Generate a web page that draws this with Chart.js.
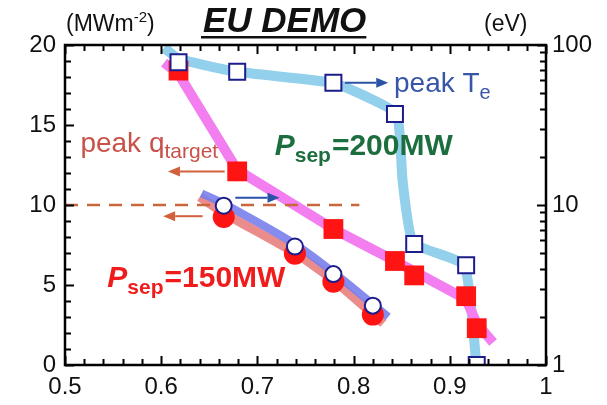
<!DOCTYPE html>
<html><head><meta charset="utf-8">
<script src="https://cdn.jsdelivr.net/npm/chart.js@4/dist/chart.umd.min.js"></script>
<style>html,body{margin:0;padding:0;background:#fff}#wrap{width:607px;height:405px}</style>
</head><body><div id="wrap"><canvas id="c" width="607" height="405"></canvas></div>
<script>
// ---- data ----
const xTicks = [0.5, 0.6, 0.7, 0.8, 0.9, 1.0];
const qTicks = [0, 5, 10, 15, 20];
const teTicks = [1, 10, 100];

// P_sep = 200 MW
const x200 = [0.618, 0.679, 0.779, 0.843, 0.863, 0.917, 0.928];
const q200 = [18.4, 12.1, 8.5, 6.5, 5.6, 4.3, 2.3];
const te200 = [78, 68, 58, 37, 5.7, 4.2, 1.0];
const q200FitX = [0.603, 0.618, 0.679, 0.779, 0.843, 0.917, 0.928, 0.945];
const q200FitY = [18.9, 18.2, 12.2, 8.5, 6.5, 4.1, 2.6, 1.4];
const te200FitX = [0.603, 0.618, 0.679, 0.779, 0.815, 0.845, 0.851, 0.862, 0.915, 0.928];
const te200FitY = [96, 82, 68, 58, 47, 37, 14, 5.8, 4.2, 0.95];

// P_sep = 150 MW
const x150 = [0.665, 0.739, 0.779, 0.820];
const q150 = [9.25, 6.95, 5.2, 3.15];
const te150 = [9.9, 5.5, 3.7, 2.35];
const q150FitX = [0.640, 0.665, 0.739, 0.779, 0.831];
const q150FitY = [10.5, 9.5, 7.0, 5.3, 2.6];
const te150FitX = [0.642, 0.665, 0.739, 0.779, 0.836];
const te150FitY = [11.8, 10.2, 5.7, 3.8, 2.0];

// reference level
const refX = [0.5, 0.806];
const refQ = [10, 10];

const pts = (xs, ys) => xs.map((x, i) => ({x: x, y: ys[i]}));

const RED = '#ff1414', NAVY = '#1c1c8a';

const datasets = [
  {data: pts(te200FitX, te200FitY), yAxisID: 'y2', showLine: true, borderColor: '#92d0ec', borderWidth: 10, pointRadius: 0, order: 20, tension: 0.15, borderJoinStyle: 'round'},
  {data: pts(q200FitX, q200FitY), yAxisID: 'y', showLine: true, borderColor: '#f27ef0', borderWidth: 10, pointRadius: 0, order: 19, tension: 0, borderJoinStyle: 'round'},
  {data: pts(q150FitX, q150FitY), yAxisID: 'y', showLine: true, borderColor: 'rgba(232,120,120,0.85)', borderWidth: 9, pointRadius: 0, order: 18, tension: 0.2},
  {data: pts(te150FitX, te150FitY), yAxisID: 'y2', showLine: true, borderColor: 'rgba(120,128,236,0.9)', borderWidth: 8, pointRadius: 0, order: 17, tension: 0.2},
  {data: pts(refX, refQ), yAxisID: 'y', showLine: true, borderColor: '#c8673e', borderWidth: 2.5, borderDash: [13, 9], pointRadius: 0, order: 16},
  {data: pts(x200, q200), yAxisID: 'y', showLine: false, pointStyle: 'rect', pointRadius: 14, backgroundColor: RED, borderColor: RED, borderWidth: 0, order: 5},
  {data: pts(x200, te200), yAxisID: 'y2', showLine: false, pointStyle: 'rect', pointRadius: 11.3, backgroundColor: '#fff', borderColor: NAVY, borderWidth: 2, order: 4},
  {data: pts(x150, q150), yAxisID: 'y', showLine: false, pointStyle: 'circle', pointRadius: 11, backgroundColor: RED, borderColor: RED, borderWidth: 0, order: 3},
  {data: pts(x150, te150), yAxisID: 'y2', showLine: false, pointStyle: 'circle', pointRadius: 8, backgroundColor: '#fff', borderColor: NAVY, borderWidth: 2, order: 2}
];

const FONT = '"Liberation Sans", Arial, sans-serif';

function arrow(ctx, x1, y1, x2, y2, color) {
  const a = Math.atan2(y2 - y1, x2 - x1), L = 12, W = 5;
  ctx.save();
  ctx.strokeStyle = color; ctx.fillStyle = color; ctx.lineWidth = 2;
  ctx.beginPath(); ctx.moveTo(x1, y1);
  ctx.lineTo(x2 - L * Math.cos(a), y2 - L * Math.sin(a)); ctx.stroke();
  ctx.beginPath(); ctx.moveTo(x2, y2);
  ctx.lineTo(x2 - L * Math.cos(a) - W * Math.sin(a), y2 - L * Math.sin(a) + W * Math.cos(a));
  ctx.lineTo(x2 - L * Math.cos(a) + W * Math.sin(a), y2 - L * Math.sin(a) - W * Math.cos(a));
  ctx.closePath(); ctx.fill();
  ctx.restore();
}

// draw a sequence of [text, font, dy, gap] runs
function runs(ctx, x, y, parts, color) {
  ctx.save(); ctx.fillStyle = color; ctx.textBaseline = 'alphabetic'; ctx.textAlign = 'left';
  let cx = x;
  for (const p of parts) { ctx.font = p[1]; ctx.fillText(p[0], cx, y + (p[2] || 0)); cx += ctx.measureText(p[0]).width + (p[3] || 0); }
  ctx.restore();
  return cx;
}

const decor = {
  id: 'decor',
  afterDatasetsDraw(chart) {
    const ctx = chart.ctx, a = chart.chartArea;
    const sx = chart.scales.x, sy = chart.scales.y, s2 = chart.scales.y2;
    ctx.save();
    ctx.strokeStyle = '#000'; ctx.lineWidth = 2.5;
    ctx.strokeRect(a.left, a.top, a.right - a.left, a.bottom - a.top);
    ctx.lineWidth = 2;
    ctx.beginPath();
    for (let i = 0; i <= 25; i++) {
      const v = 0.5 + i * 0.02, px = Math.round(sx.getPixelForValue(v)) + 0.5;
      const L = (i % 5 === 0) ? 9 : 6;
      ctx.moveTo(px, a.bottom); ctx.lineTo(px, a.bottom - L);
      ctx.moveTo(px, a.top); ctx.lineTo(px, a.top + L);
    }
    for (let v = 0; v <= 20; v++) {
      const py = Math.round(sy.getPixelForValue(v)) + 0.5, L = (v % 5 === 0) ? 9 : 6;
      ctx.moveTo(a.left, py); ctx.lineTo(a.left + L, py);
    }
    for (const d of [1, 10]) for (let m = 1; m <= 10; m++) {
      const v = d * m; if (v > 100) continue;
      const py = Math.round(s2.getPixelForValue(v)) + 0.5, L = (m === 1 || m === 10) ? 9 : 6;
      ctx.moveTo(a.right, py); ctx.lineTo(a.right - L, py);
    }
    ctx.stroke();
    ctx.restore();

    const ORG = '#d2603c', BLU = '#2a52a6';
    arrow(ctx, sx.getPixelForValue(0.791), s2.getPixelForValue(58), sx.getPixelForValue(0.836), s2.getPixelForValue(58), BLU);
    arrow(ctx, sx.getPixelForValue(0.666), sy.getPixelForValue(12.1), sx.getPixelForValue(0.607), sy.getPixelForValue(12.1), ORG);
    arrow(ctx, sx.getPixelForValue(0.643), sy.getPixelForValue(9.3), sx.getPixelForValue(0.602), sy.getPixelForValue(9.3), ORG);
    arrow(ctx, sx.getPixelForValue(0.677), s2.getPixelForValue(11.1), sx.getPixelForValue(0.723), s2.getPixelForValue(11.1), BLU);

    runs(ctx, sx.getPixelForValue(0.842), s2.getPixelForValue(58) + 9, [['peak T', '28px ' + FONT], ['e', '20px ' + FONT, 7]], '#3656a8');
    runs(ctx, sx.getPixelForValue(0.516), sy.getPixelForValue(13.3), [['peak q', '28px ' + FONT], ['target', '21px ' + FONT, 6]], '#c8524a');
    runs(ctx, sx.getPixelForValue(0.718), sy.getPixelForValue(13.1), [['P', 'italic bold 30px ' + FONT], ['sep', 'bold 21px ' + FONT, 7, 1], ['=200MW', 'bold 30px ' + FONT]], '#1d6e3e');
    runs(ctx, sx.getPixelForValue(0.544), sy.getPixelForValue(4.9), [['P', 'italic bold 30px ' + FONT], ['sep', 'bold 21px ' + FONT, 7, 1], ['=150MW', 'bold 30px ' + FONT]], '#f01c1c');

    runs(ctx, 66, 31, [['(MWm', '23px ' + FONT], ['-2', '15px ' + FONT, -9], [')', '23px ' + FONT]], '#111');
    runs(ctx, 484, 31, [['(eV)', '23px ' + FONT]], '#111');
    ctx.save();
    ctx.font = 'italic bold 35px ' + FONT; ctx.fillStyle = '#111'; ctx.textAlign = 'left'; ctx.textBaseline = 'alphabetic';
    const tx = 203, ty = 32, tw = ctx.measureText('EU DEMO').width;
    ctx.fillText('EU DEMO', tx, ty);
    ctx.fillRect(tx - 2, ty + 4, tw + 2, 2.5);
    ctx.restore();
  }
};

new Chart(document.getElementById('c'), {
  type: 'scatter',
  data: {datasets},
  options: {
    responsive: false, animation: false, devicePixelRatio: 1,
    layout: {padding: {top: 45, left: 0, right: 0, bottom: 0}},
    plugins: {legend: {display: false}, tooltip: {enabled: false}},
    scales: {
      x: {type: 'linear', min: 0.5, max: 1.0,
        afterBuildTicks: s => { s.ticks = xTicks.map(v => ({value: v})); },
        afterFit: s => { s.height = 40; },
        grid: {display: false, drawTicks: false}, border: {display: false},
        ticks: {padding: 8, color: '#111', font: {family: FONT, size: 24}, callback: v => String(Number(v.toFixed(1)))}},
      y: {type: 'linear', position: 'left', min: 0, max: 20,
        afterBuildTicks: s => { s.ticks = qTicks.map(v => ({value: v})); },
        afterFit: s => { s.width = 65; },
        grid: {display: false, drawTicks: false}, border: {display: false},
        ticks: {padding: 9, color: '#111', font: {family: FONT, size: 24}}},
      y2: {type: 'logarithmic', position: 'right', min: 1, max: 100,
        afterBuildTicks: s => { s.ticks = teTicks.map(v => ({value: v})); },
        afterFit: s => { s.width = 61; },
        grid: {display: false, drawTicks: false}, border: {display: false},
        ticks: {padding: 6, color: '#111', font: {family: FONT, size: 24}, callback: v => String(v)}}
    }
  },
  plugins: [decor]
});
</script></body></html>
